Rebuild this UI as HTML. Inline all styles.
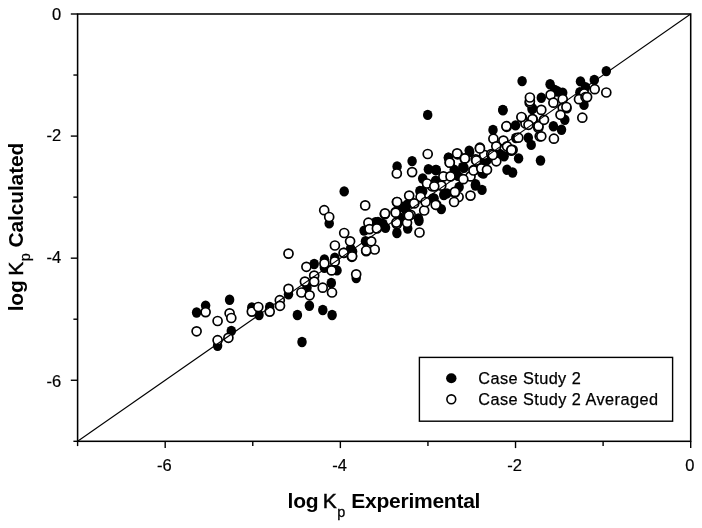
<!DOCTYPE html>
<html><head><meta charset="utf-8"><title>log Kp plot</title>
<style>
html,body{margin:0;padding:0;background:#fff;}
svg{display:block;font-family:"Liberation Sans",sans-serif;}
</style></head><body>
<svg width="702" height="528" viewBox="0 0 702 528">
<rect x="0" y="0" width="702" height="528" fill="#fff"/>
<g fill="#000" stroke="none">
<ellipse cx="196.6" cy="312.5" rx="4.75" ry="5.2"/>
<ellipse cx="205.6" cy="305.6" rx="4.75" ry="5.2"/>
<ellipse cx="229.6" cy="299.7" rx="4.75" ry="5.2"/>
<ellipse cx="231.3" cy="330.9" rx="4.75" ry="5.2"/>
<ellipse cx="217.6" cy="345.8" rx="4.75" ry="5.2"/>
<ellipse cx="251.8" cy="307.4" rx="4.75" ry="5.2"/>
<ellipse cx="259.0" cy="315.0" rx="4.75" ry="5.2"/>
<ellipse cx="269.7" cy="307.0" rx="4.75" ry="5.2"/>
<ellipse cx="288.5" cy="294.2" rx="4.75" ry="5.2"/>
<ellipse cx="297.4" cy="315.0" rx="4.75" ry="5.2"/>
<ellipse cx="302.0" cy="342.0" rx="4.75" ry="5.2"/>
<ellipse cx="314.2" cy="264.0" rx="4.75" ry="5.2"/>
<ellipse cx="324.4" cy="267.8" rx="4.75" ry="5.2"/>
<ellipse cx="334.8" cy="257.8" rx="4.75" ry="5.2"/>
<ellipse cx="337.0" cy="270.4" rx="4.75" ry="5.2"/>
<ellipse cx="331.3" cy="283.0" rx="4.75" ry="5.2"/>
<ellipse cx="356.2" cy="278.0" rx="4.75" ry="5.2"/>
<ellipse cx="309.4" cy="305.8" rx="4.75" ry="5.2"/>
<ellipse cx="322.8" cy="310.0" rx="4.75" ry="5.2"/>
<ellipse cx="332.1" cy="315.0" rx="4.75" ry="5.2"/>
<ellipse cx="307.0" cy="287.7" rx="4.75" ry="5.2"/>
<ellipse cx="352.6" cy="251.4" rx="4.75" ry="5.2"/>
<ellipse cx="344.2" cy="191.4" rx="4.75" ry="5.2"/>
<ellipse cx="329.2" cy="223.4" rx="4.75" ry="5.2"/>
<ellipse cx="375.5" cy="222.2" rx="4.75" ry="5.2"/>
<ellipse cx="385.5" cy="227.7" rx="4.75" ry="5.2"/>
<ellipse cx="396.9" cy="233.0" rx="4.75" ry="5.2"/>
<ellipse cx="364.1" cy="230.6" rx="4.75" ry="5.2"/>
<ellipse cx="365.5" cy="241.3" rx="4.75" ry="5.2"/>
<ellipse cx="350.6" cy="248.4" rx="4.75" ry="5.2"/>
<ellipse cx="407.7" cy="228.5" rx="4.75" ry="5.2"/>
<ellipse cx="419.0" cy="220.7" rx="4.75" ry="5.2"/>
<ellipse cx="397.1" cy="166.4" rx="4.75" ry="5.2"/>
<ellipse cx="412.1" cy="161.1" rx="4.75" ry="5.2"/>
<ellipse cx="428.4" cy="169.2" rx="4.75" ry="5.2"/>
<ellipse cx="436.3" cy="170.0" rx="4.75" ry="5.2"/>
<ellipse cx="422.7" cy="178.5" rx="4.75" ry="5.2"/>
<ellipse cx="435.6" cy="180.6" rx="4.75" ry="5.2"/>
<ellipse cx="448.4" cy="157.8" rx="4.75" ry="5.2"/>
<ellipse cx="455.5" cy="171.4" rx="4.75" ry="5.2"/>
<ellipse cx="464.0" cy="167.8" rx="4.75" ry="5.2"/>
<ellipse cx="469.7" cy="152.1" rx="4.75" ry="5.2"/>
<ellipse cx="459.1" cy="187.0" rx="4.75" ry="5.2"/>
<ellipse cx="447.0" cy="193.4" rx="4.75" ry="5.2"/>
<ellipse cx="441.3" cy="209.1" rx="4.75" ry="5.2"/>
<ellipse cx="434.1" cy="198.4" rx="4.75" ry="5.2"/>
<ellipse cx="407.1" cy="204.8" rx="4.75" ry="5.2"/>
<ellipse cx="418.5" cy="218.4" rx="4.75" ry="5.2"/>
<ellipse cx="475.4" cy="185.6" rx="4.75" ry="5.2"/>
<ellipse cx="422.7" cy="191.3" rx="4.75" ry="5.2"/>
<ellipse cx="383.0" cy="224.0" rx="4.75" ry="5.2"/>
<ellipse cx="503.0" cy="110.3" rx="4.75" ry="5.2"/>
<ellipse cx="493.0" cy="129.9" rx="4.75" ry="5.2"/>
<ellipse cx="515.5" cy="125.4" rx="4.75" ry="5.2"/>
<ellipse cx="528.3" cy="137.7" rx="4.75" ry="5.2"/>
<ellipse cx="531.2" cy="144.9" rx="4.75" ry="5.2"/>
<ellipse cx="518.6" cy="158.4" rx="4.75" ry="5.2"/>
<ellipse cx="507.0" cy="169.8" rx="4.75" ry="5.2"/>
<ellipse cx="512.6" cy="172.5" rx="4.75" ry="5.2"/>
<ellipse cx="540.5" cy="160.5" rx="4.75" ry="5.2"/>
<ellipse cx="469.2" cy="150.6" rx="4.75" ry="5.2"/>
<ellipse cx="448.5" cy="157.7" rx="4.75" ry="5.2"/>
<ellipse cx="462.8" cy="167.0" rx="4.75" ry="5.2"/>
<ellipse cx="454.2" cy="169.8" rx="4.75" ry="5.2"/>
<ellipse cx="504.1" cy="156.3" rx="4.75" ry="5.2"/>
<ellipse cx="484.2" cy="161.3" rx="4.75" ry="5.2"/>
<ellipse cx="532.6" cy="108.5" rx="4.75" ry="5.2"/>
<ellipse cx="522.1" cy="81.1" rx="4.75" ry="5.2"/>
<ellipse cx="502.8" cy="109.9" rx="4.75" ry="5.2"/>
<ellipse cx="550.1" cy="84.2" rx="4.75" ry="5.2"/>
<ellipse cx="554.8" cy="89.9" rx="4.75" ry="5.2"/>
<ellipse cx="562.7" cy="92.8" rx="4.75" ry="5.2"/>
<ellipse cx="541.3" cy="97.7" rx="4.75" ry="5.2"/>
<ellipse cx="532.0" cy="109.1" rx="4.75" ry="5.2"/>
<ellipse cx="580.5" cy="81.4" rx="4.75" ry="5.2"/>
<ellipse cx="594.3" cy="79.9" rx="4.75" ry="5.2"/>
<ellipse cx="585.5" cy="87.1" rx="4.75" ry="5.2"/>
<ellipse cx="584.0" cy="104.9" rx="4.75" ry="5.2"/>
<ellipse cx="564.8" cy="119.8" rx="4.75" ry="5.2"/>
<ellipse cx="553.4" cy="126.2" rx="4.75" ry="5.2"/>
<ellipse cx="561.5" cy="129.8" rx="4.75" ry="5.2"/>
<ellipse cx="567.0" cy="108.4" rx="4.75" ry="5.2"/>
<ellipse cx="606.3" cy="71.1" rx="4.75" ry="5.2"/>
<ellipse cx="482.0" cy="189.9" rx="4.75" ry="5.2"/>
<ellipse cx="475.6" cy="184.2" rx="4.75" ry="5.2"/>
<ellipse cx="444.2" cy="194.2" rx="4.75" ry="5.2"/>
<ellipse cx="435.7" cy="170.0" rx="4.75" ry="5.2"/>
<ellipse cx="483.4" cy="173.5" rx="4.75" ry="5.2"/>
<ellipse cx="487.0" cy="160.0" rx="4.75" ry="5.2"/>
<ellipse cx="432.8" cy="198.4" rx="4.75" ry="5.2"/>
<ellipse cx="324.4" cy="259.5" rx="4.75" ry="5.2"/>
<ellipse cx="399.8" cy="218.0" rx="4.75" ry="5.2"/>
<ellipse cx="405.8" cy="210.0" rx="4.75" ry="5.2"/>
<ellipse cx="401.9" cy="206.9" rx="4.75" ry="5.2"/>
<ellipse cx="398.9" cy="216.9" rx="4.75" ry="5.2"/>
<ellipse cx="457.9" cy="175.9" rx="4.75" ry="5.2"/>
<ellipse cx="499.9" cy="153.9" rx="4.75" ry="5.2"/>
<ellipse cx="481.9" cy="172.9" rx="4.75" ry="5.2"/>
<ellipse cx="515.8" cy="138.0" rx="4.75" ry="5.2"/>
<ellipse cx="419.9" cy="191.0" rx="4.75" ry="5.2"/>
<ellipse cx="443.8" cy="195.0" rx="4.75" ry="5.2"/>
<ellipse cx="378.0" cy="221.9" rx="4.75" ry="5.2"/>
<ellipse cx="579.9" cy="92.3" rx="4.75" ry="5.2"/>
<ellipse cx="557.6" cy="91.5" rx="4.75" ry="5.2"/>
<ellipse cx="427.7" cy="114.9" rx="4.75" ry="5.2"/>
</g>
<g fill="#fff" stroke="#000" stroke-width="1.7">
<circle cx="205.6" cy="312.1" r="4.5"/>
<circle cx="196.6" cy="331.3" r="4.5"/>
<circle cx="217.6" cy="321.0" r="4.5"/>
<circle cx="229.6" cy="313.3" r="4.5"/>
<circle cx="231.3" cy="318.0" r="4.5"/>
<circle cx="217.6" cy="340.2" r="4.5"/>
<circle cx="228.4" cy="337.8" r="4.5"/>
<circle cx="251.8" cy="311.6" r="4.5"/>
<circle cx="258.3" cy="307.0" r="4.5"/>
<circle cx="269.7" cy="311.6" r="4.5"/>
<circle cx="279.8" cy="300.2" r="4.5"/>
<circle cx="280.0" cy="305.8" r="4.5"/>
<circle cx="288.5" cy="288.9" r="4.5"/>
<circle cx="288.5" cy="253.6" r="4.5"/>
<circle cx="306.4" cy="266.8" r="4.5"/>
<circle cx="314.2" cy="275.6" r="4.5"/>
<circle cx="304.9" cy="281.6" r="4.5"/>
<circle cx="314.2" cy="281.6" r="4.5"/>
<circle cx="301.4" cy="292.5" r="4.5"/>
<circle cx="309.6" cy="295.3" r="4.5"/>
<circle cx="322.7" cy="287.7" r="4.5"/>
<circle cx="332.0" cy="292.5" r="4.5"/>
<circle cx="324.4" cy="263.5" r="4.5"/>
<circle cx="334.8" cy="261.4" r="4.5"/>
<circle cx="331.6" cy="270.4" r="4.5"/>
<circle cx="351.9" cy="256.8" r="4.5"/>
<circle cx="356.2" cy="274.3" r="4.5"/>
<circle cx="344.1" cy="252.8" r="4.5"/>
<circle cx="366.2" cy="251.1" r="4.5"/>
<circle cx="374.7" cy="249.5" r="4.5"/>
<circle cx="324.2" cy="210.2" r="4.5"/>
<circle cx="329.2" cy="217.0" r="4.5"/>
<circle cx="365.2" cy="205.4" r="4.5"/>
<circle cx="384.8" cy="214.2" r="4.5"/>
<circle cx="396.9" cy="202.1" r="4.5"/>
<circle cx="395.7" cy="212.1" r="4.5"/>
<circle cx="396.9" cy="224.2" r="4.5"/>
<circle cx="368.4" cy="222.7" r="4.5"/>
<circle cx="369.5" cy="229.1" r="4.5"/>
<circle cx="376.9" cy="228.4" r="4.5"/>
<circle cx="371.2" cy="241.3" r="4.5"/>
<circle cx="344.2" cy="233.0" r="4.5"/>
<circle cx="350.1" cy="241.3" r="4.5"/>
<circle cx="334.9" cy="245.5" r="4.5"/>
<circle cx="366.2" cy="250.5" r="4.5"/>
<circle cx="343.6" cy="252.8" r="4.5"/>
<circle cx="352.1" cy="256.3" r="4.5"/>
<circle cx="419.5" cy="232.5" r="4.5"/>
<circle cx="407.0" cy="222.8" r="4.5"/>
<circle cx="427.7" cy="154.0" r="4.5"/>
<circle cx="396.8" cy="173.5" r="4.5"/>
<circle cx="412.1" cy="172.1" r="4.5"/>
<circle cx="443.4" cy="176.4" r="4.5"/>
<circle cx="449.8" cy="162.5" r="4.5"/>
<circle cx="457.6" cy="154.3" r="4.5"/>
<circle cx="464.8" cy="158.5" r="4.5"/>
<circle cx="475.7" cy="159.3" r="4.5"/>
<circle cx="474.0" cy="169.9" r="4.5"/>
<circle cx="470.5" cy="176.4" r="4.5"/>
<circle cx="463.3" cy="179.2" r="4.5"/>
<circle cx="470.5" cy="195.6" r="4.5"/>
<circle cx="458.6" cy="197.0" r="4.5"/>
<circle cx="454.1" cy="202.0" r="4.5"/>
<circle cx="436.3" cy="204.8" r="4.5"/>
<circle cx="420.6" cy="197.0" r="4.5"/>
<circle cx="409.2" cy="195.6" r="4.5"/>
<circle cx="397.1" cy="202.0" r="4.5"/>
<circle cx="385.0" cy="213.4" r="4.5"/>
<circle cx="395.7" cy="212.7" r="4.5"/>
<circle cx="410.6" cy="214.8" r="4.5"/>
<circle cx="424.2" cy="210.5" r="4.5"/>
<circle cx="425.6" cy="202.0" r="4.5"/>
<circle cx="432.0" cy="186.3" r="4.5"/>
<circle cx="441.3" cy="185.6" r="4.5"/>
<circle cx="427.0" cy="183.5" r="4.5"/>
<circle cx="450.5" cy="176.4" r="4.5"/>
<circle cx="396.4" cy="222.6" r="4.5"/>
<circle cx="414.2" cy="203.4" r="4.5"/>
<circle cx="454.8" cy="192.7" r="4.5"/>
<circle cx="506.7" cy="126.8" r="4.5"/>
<circle cx="521.9" cy="117.8" r="4.5"/>
<circle cx="532.6" cy="119.2" r="4.5"/>
<circle cx="518.3" cy="137.7" r="4.5"/>
<circle cx="493.4" cy="138.7" r="4.5"/>
<circle cx="503.4" cy="140.6" r="4.5"/>
<circle cx="496.3" cy="146.3" r="4.5"/>
<circle cx="507.0" cy="146.3" r="4.5"/>
<circle cx="512.6" cy="149.9" r="4.5"/>
<circle cx="479.9" cy="147.7" r="4.5"/>
<circle cx="484.2" cy="154.8" r="4.5"/>
<circle cx="457.1" cy="153.4" r="4.5"/>
<circle cx="464.9" cy="158.4" r="4.5"/>
<circle cx="449.7" cy="162.7" r="4.5"/>
<circle cx="476.3" cy="160.5" r="4.5"/>
<circle cx="496.3" cy="161.3" r="4.5"/>
<circle cx="473.5" cy="170.5" r="4.5"/>
<circle cx="481.3" cy="168.4" r="4.5"/>
<circle cx="487.0" cy="169.8" r="4.5"/>
<circle cx="538.3" cy="127.8" r="4.5"/>
<circle cx="539.7" cy="136.3" r="4.5"/>
<circle cx="525.5" cy="123.5" r="4.5"/>
<circle cx="529.7" cy="102.8" r="4.5"/>
<circle cx="491.3" cy="154.1" r="4.5"/>
<circle cx="529.9" cy="101.3" r="4.5"/>
<circle cx="550.6" cy="94.9" r="4.5"/>
<circle cx="553.4" cy="102.7" r="4.5"/>
<circle cx="562.7" cy="99.2" r="4.5"/>
<circle cx="562.7" cy="107.7" r="4.5"/>
<circle cx="560.5" cy="114.8" r="4.5"/>
<circle cx="541.3" cy="109.9" r="4.5"/>
<circle cx="521.4" cy="117.0" r="4.5"/>
<circle cx="532.5" cy="119.1" r="4.5"/>
<circle cx="538.5" cy="126.2" r="4.5"/>
<circle cx="506.4" cy="126.2" r="4.5"/>
<circle cx="528.5" cy="124.8" r="4.5"/>
<circle cx="582.3" cy="117.7" r="4.5"/>
<circle cx="594.7" cy="89.2" r="4.5"/>
<circle cx="584.0" cy="93.5" r="4.5"/>
<circle cx="579.0" cy="99.2" r="4.5"/>
<circle cx="585.5" cy="97.0" r="4.5"/>
<circle cx="544.0" cy="119.8" r="4.5"/>
<circle cx="606.3" cy="92.5" r="4.5"/>
<circle cx="435.7" cy="204.8" r="4.5"/>
<circle cx="434.3" cy="186.3" r="4.5"/>
<circle cx="511.2" cy="150.7" r="4.5"/>
<circle cx="553.9" cy="138.7" r="4.5"/>
<circle cx="541.3" cy="136.3" r="4.5"/>
<circle cx="511.4" cy="149.9" r="4.5"/>
<circle cx="408.8" cy="215.5" r="4.5"/>
<circle cx="479.9" cy="148.5" r="4.5"/>
<circle cx="492.8" cy="155.0" r="4.5"/>
<circle cx="454.9" cy="191.9" r="4.5"/>
<circle cx="529.9" cy="97.5" r="4.5"/>
<circle cx="587.1" cy="97.1" r="4.5"/>
<circle cx="566.4" cy="107.0" r="4.5"/>
</g>
<line x1="77.6" y1="441.3" x2="690.7" y2="14.0" stroke="#000" stroke-width="1.1"/>
<rect x="77.6" y="14.0" width="613.1" height="427.3" fill="none" stroke="#000" stroke-width="1.55"/>
<g stroke="#000" stroke-width="1.4">
<line x1="77.60" y1="441.3" x2="77.60" y2="446.1"/>
<line x1="77.6" y1="14.00" x2="70.8" y2="14.00"/>
<line x1="165.19" y1="441.3" x2="165.19" y2="448.1"/>
<line x1="77.6" y1="75.04" x2="73.39999999999999" y2="75.04"/>
<line x1="252.77" y1="441.3" x2="252.77" y2="446.1"/>
<line x1="77.6" y1="136.09" x2="70.8" y2="136.09"/>
<line x1="340.36" y1="441.3" x2="340.36" y2="448.1"/>
<line x1="77.6" y1="197.13" x2="73.39999999999999" y2="197.13"/>
<line x1="427.94" y1="441.3" x2="427.94" y2="446.1"/>
<line x1="77.6" y1="258.17" x2="70.8" y2="258.17"/>
<line x1="515.53" y1="441.3" x2="515.53" y2="448.1"/>
<line x1="77.6" y1="319.21" x2="73.39999999999999" y2="319.21"/>
<line x1="603.11" y1="441.3" x2="603.11" y2="446.1"/>
<line x1="77.6" y1="380.26" x2="70.8" y2="380.26"/>
<line x1="690.70" y1="441.3" x2="690.70" y2="448.1"/>
<line x1="77.6" y1="441.30" x2="73.39999999999999" y2="441.30"/>
</g>
<g font-size="16.5" fill="#000" stroke="#000" stroke-width="0.2">
<text x="164.3" y="470.7" text-anchor="middle">-6</text>
<text x="339.5" y="470.7" text-anchor="middle">-4</text>
<text x="514.6" y="470.7" text-anchor="middle">-2</text>
<text x="689.8" y="470.7" text-anchor="middle">0</text>
<text x="61.1" y="19.5" text-anchor="end">0</text>
<text x="61.1" y="141.4" text-anchor="end">-2</text>
<text x="61.1" y="263.3" text-anchor="end">-4</text>
<text x="61.1" y="386.5" text-anchor="end">-6</text>
</g>
<rect x="419.4" y="357.4" width="253.2" height="63.8" fill="#fff" stroke="#000" stroke-width="1.4"/>
<ellipse cx="451.3" cy="378.3" rx="5.2" ry="5" fill="#000"/>
<circle cx="451.3" cy="399.3" r="4.4" fill="#fff" stroke="#000" stroke-width="1.6"/>
<g font-size="16.3" fill="#000" stroke="#000" stroke-width="0.25">
<text x="478.2" y="383.6" textLength="102.5" lengthAdjust="spacing">Case Study 2</text>
<text x="478.2" y="404.9" textLength="179.8" lengthAdjust="spacing">Case Study 2 Averaged</text>
</g>
<text x="287.6" y="508.3" font-size="21" letter-spacing="-0.26" font-weight="bold" fill="#000">log <tspan font-weight="normal" dx="-1.2" stroke="#000" stroke-width="0.45">K</tspan><tspan font-weight="normal" font-size="14.4" dx="0.7" dy="8.6" stroke="#000" stroke-width="0.3">p</tspan><tspan dy="-8.6" dx="0.9"> Experimental</tspan></text>
<text transform="translate(22.7,311.3) rotate(-90)" font-size="21" letter-spacing="-0.16" font-weight="bold" fill="#000">log <tspan font-weight="normal" dx="-1.2" stroke="#000" stroke-width="0.45">K</tspan><tspan font-weight="normal" font-size="14.4" dx="0.7" dy="6.9" stroke="#000" stroke-width="0.3">p</tspan><tspan dy="-6.9" dx="0.3"> Calculated</tspan></text>
</svg>
</body></html>
